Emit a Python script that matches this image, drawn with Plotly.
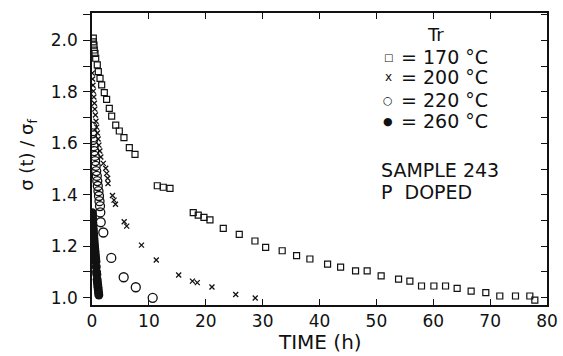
import plotly.graph_objects as go

# ---- data ----
t170 = [0.23, 0.23, 0.35, 0.40, 0.53, 0.65, 0.93, 1.11, 1.41, 1.70, 2.16, 2.57, 3.04, 3.46,
        4.17, 4.80, 5.62, 6.56, 7.56, 11.48, 12.53, 13.71, 17.80, 18.68, 19.68, 20.74, 23.08,
        25.89, 28.65, 30.53, 33.44, 35.97, 38.31, 41.42, 43.71, 46.34, 48.38, 50.84, 53.90,
        55.89, 57.94, 60.11, 62.16, 64.20, 66.66, 69.24, 71.70, 74.46, 76.98, 77.86]
s170 = [2.009, 1.995, 1.982, 1.963, 1.950, 1.931, 1.905, 1.879, 1.853, 1.827, 1.797, 1.771,
        1.736, 1.706, 1.671, 1.648, 1.622, 1.583, 1.557, 1.435, 1.429, 1.425, 1.330, 1.321,
        1.312, 1.302, 1.269, 1.246, 1.220, 1.195, 1.182, 1.163, 1.150, 1.130, 1.118, 1.104,
        1.104, 1.084, 1.072, 1.064, 1.045, 1.045, 1.045, 1.036, 1.025, 1.019, 1.006, 1.006,
        1.006, 0.990]

t200 = [0.05, 0.10, 0.17, 0.25, 0.33, 0.42, 0.50, 0.60, 0.70, 0.82, 0.95, 1.08, 1.22, 1.38,
        1.55, 1.99, 2.41, 2.58, 2.76, 2.81, 3.60, 3.87, 4.13, 5.66, 6.10, 8.70, 11.30, 15.24,
        17.66, 18.51, 21.09, 25.27, 28.70]
s200 = [1.873, 1.850, 1.826, 1.803, 1.780, 1.756, 1.733, 1.710, 1.686, 1.663, 1.640, 1.617,
        1.593, 1.570, 1.547, 1.522, 1.503, 1.483, 1.464, 1.444, 1.397, 1.379, 1.363, 1.295,
        1.278, 1.204, 1.146, 1.088, 1.064, 1.058, 1.041, 1.012, 0.998]

t220 = [0.05, 0.09, 0.18, 0.30, 0.39, 0.49, 0.56, 0.65, 0.74, 0.84, 0.93, 1.02, 1.14, 1.23,
        1.32, 1.41, 1.46, 1.53, 1.99, 3.39, 5.57, 7.70, 10.67]
s220 = [1.665, 1.639, 1.613, 1.589, 1.570, 1.551, 1.531, 1.512, 1.492, 1.473, 1.453, 1.434,
        1.414, 1.395, 1.375, 1.356, 1.331, 1.293, 1.253, 1.154, 1.079, 1.040, 0.999]

t260 = [0.05, 0.08, 0.10, 0.12, 0.15, 0.18, 0.20, 0.23, 0.26, 0.30, 0.33, 0.37, 0.40, 0.44,
        0.48, 0.52, 0.56, 0.60, 0.65, 0.70, 0.75, 0.80, 0.85, 0.90, 0.95, 1.00, 1.05, 1.10,
        1.15, 1.20]
s260 = [1.33, 1.32, 1.31, 1.30, 1.29, 1.28, 1.27, 1.26, 1.25, 1.24, 1.23, 1.22, 1.21, 1.20,
        1.19, 1.18, 1.17, 1.16, 1.15, 1.14, 1.12, 1.10, 1.09, 1.07, 1.06, 1.05, 1.04, 1.03,
        1.02, 1.01]

legend_symbols = ["□", "x", "○", "●"]
legend_labels = ["= 170 °C", "= 200 °C", "= 220 °C", "= 260 °C"]
x_ticks = [0, 10, 20, 30, 40, 50, 60, 70, 80]
y_ticks = [1.0, 1.2, 1.4, 1.6, 1.8, 2.0]

FONT = "DejaVu Sans"
INK = "#111111"

fig = go.Figure()
fig.add_trace(go.Scatter(x=t170, y=s170, mode="markers", name=legend_labels[0],
                         marker=dict(symbol="square-open", size=6, color=INK,
                                     line=dict(width=1.2, color=INK))))
fig.add_trace(go.Scatter(x=t200, y=s200, mode="markers", name=legend_labels[1],
                         marker=dict(symbol="x-thin", size=5, color=INK,
                                     line=dict(width=1.3, color=INK))))
fig.add_trace(go.Scatter(x=t220, y=s220, mode="markers", name=legend_labels[2],
                         marker=dict(symbol="circle-open", size=9, color=INK,
                                     line=dict(width=1.3, color=INK))))
fig.add_trace(go.Scatter(x=t260, y=s260, mode="markers", name=legend_labels[3],
                         marker=dict(symbol="circle", size=9, color=INK,
                                     line=dict(width=0, color=INK))))
# dummy trace to host the mirrored tick axes (top / right)
fig.add_trace(go.Scatter(x=[None], y=[None], xaxis="x2", yaxis="y2",
                         showlegend=False, hoverinfo="skip"))

xr = [0, 80]
yr = [0.971, 2.107]

# legend drawn as text (rows placed in paper coordinates)
row_y = [0.849, 0.781, 0.702, 0.630]
sym_sizes = [10, 12, 11, 11]
annotations = [
    dict(text="TIME (h)", xref="paper", yref="paper", x=0.5, y=-0.1747,
         xanchor="center", yanchor="bottom", showarrow=False,
         font=dict(size=20, family=FONT, color=INK)),
    dict(text="σ (t) / σ<sub>f</sub>", xref="paper", yref="paper", x=-0.141, y=0.514,
         xanchor="center", yanchor="middle", showarrow=False, textangle=-90,
         font=dict(size=18, family=FONT, color=INK)),
    dict(text="SAMPLE 243", xref="paper", yref="paper", x=0.631, y=0.462,
         xanchor="left", yanchor="middle", align="left", showarrow=False,
         font=dict(size=19, family=FONT, color=INK)),
    dict(text="P  DOPED", xref="paper", yref="paper", x=0.631, y=0.388,
         xanchor="left", yanchor="middle", align="left", showarrow=False,
         font=dict(size=19, family=FONT, color=INK)),
    dict(text="Tr", xref="paper", yref="paper", x=0.754, y=0.925,
         xanchor="center", yanchor="middle", showarrow=False,
         font=dict(size=18, family=FONT, color=INK)),
]
for sym, lab, ry, ss in zip(legend_symbols, legend_labels, row_y, sym_sizes):
    annotations.append(dict(text=sym, xref="paper", yref="paper", x=0.651, y=ry,
                            xanchor="center", yanchor="middle", showarrow=False,
                            font=dict(size=ss, family=FONT, color=INK)))
    annotations.append(dict(text=lab, xref="paper", yref="paper", x=0.674, y=ry,
                            xanchor="left", yanchor="middle", showarrow=False,
                            font=dict(size=19, family=FONT, color=INK)))

fig.update_layout(
    width=563, height=356,
    margin=dict(l=92, r=16, t=13, b=51),
    paper_bgcolor="white", plot_bgcolor="white",
    font=dict(family=FONT, color=INK),
    showlegend=False,
    xaxis=dict(range=xr, tickvals=x_ticks, ticks="inside", ticklen=6, tickwidth=1.3,
               tickcolor=INK, showline=True, linecolor=INK, linewidth=1.5, mirror=True,
               showgrid=False, zeroline=False, tickfont=dict(size=17, family=FONT),
               ticklabelstandoff=0, automargin=False),
    yaxis=dict(range=yr, tickvals=y_ticks, tickformat=".1f", ticks="", showline=True,
               linecolor=INK, linewidth=1.5, mirror=True, showgrid=False, zeroline=False,
               tickfont=dict(size=17, family=FONT), ticklabelstandoff=9, automargin=False,
               minor=dict(dtick=0.1, tick0=1.0, ticks="outside", ticklen=7,
                          tickwidth=1.3, tickcolor=INK, showgrid=False)),
    xaxis2=dict(range=xr, overlaying="x", side="top", tickvals=x_ticks, ticks="inside",
                ticklen=6, tickwidth=1.3, tickcolor=INK, showticklabels=False,
                showline=False, showgrid=False, zeroline=False, automargin=False),
    yaxis2=dict(range=yr, overlaying="y", side="right", dtick=0.1, tick0=1.0,
                ticks="inside", ticklen=6, tickwidth=1.3, tickcolor=INK,
                showticklabels=False, showline=False, showgrid=False, zeroline=False,
                automargin=False),
    annotations=annotations,
)

fig.write_html("out.html", config={"displayModeBar": False},
               post_script="document.body.style.margin='0';document.body.style.padding='0';")
